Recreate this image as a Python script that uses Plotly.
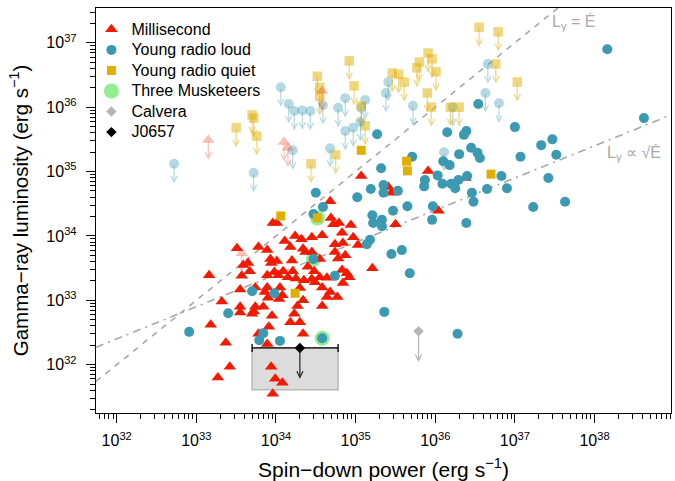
import numpy as np
import plotly.graph_objects as go

# ---- data: log10 spin-down power (erg/s) and log10 gamma-ray luminosity (erg/s) ----
# Millisecond pulsars (detections)
msp_log_edot = [33.96, 34.01, 34.24, 34.32, 34.45, 34.58, 33.51, 33.78, 33.89, 34.11,
                34.18, 34.34, 34.37, 33.65, 33.59, 33.67, 33.93, 34.01, 34.20, 33.94,
                33.16, 33.57, 33.89, 33.98, 34.09, 34.15, 34.25, 34.35, 34.21, 34.03,
                34.40, 34.48, 34.55, 34.64, 34.45, 34.49, 33.55, 33.74, 33.89, 34.05,
                34.08, 33.86, 33.90, 34.04, 34.30, 34.34, 34.58, 34.64, 33.32, 33.55,
                33.74, 33.84, 34.27, 34.58, 33.55, 33.72, 33.70, 33.95, 34.23, 34.18,
                34.30, 33.18, 33.91, 33.78, 34.34, 33.37, 33.89, 33.42, 33.27, 33.94,
                33.99, 34.08, 33.96, 35.07, 35.41, 35.45, 34.68, 35.91, 36.04, 34.69,
                34.79, 34.72, 34.94, 35.50, 36.38, 34.97, 34.83, 34.74, 34.84, 35.03,
                34.74, 34.87, 34.78, 34.55, 34.45, 35.21, 34.83, 34.89, 34.92, 34.84,
                34.68, 34.77]
msp_log_lum = [34.20, 34.20, 34.00, 33.95, 33.98, 34.01, 33.81, 33.83, 33.78, 33.92,
               33.83, 33.80, 33.75, 33.58, 33.55, 33.45, 33.64, 33.61, 33.62, 33.58,
               33.39, 33.38, 33.39, 33.44, 33.45, 33.36, 33.34, 33.31, 33.45, 33.39,
               33.52, 33.45, 33.36, 33.35, 33.33, 33.28, 33.17, 33.20, 33.20, 33.20,
               33.08, 33.13, 33.04, 33.02, 33.19, 33.00, 33.20, 33.05, 32.98, 32.90,
               32.90, 32.90, 32.91, 32.91, 32.81, 32.83, 32.79, 32.76, 32.79, 32.66,
               32.66, 32.62, 32.59, 32.48, 32.48, 32.34, 32.32, 31.97, 31.80, 31.97,
               31.78, 31.72, 31.55, 34.93, 34.76, 34.67, 34.54, 35.01, 34.39, 34.28,
               34.20, 34.18, 34.17, 34.18, 34.90, 33.98, 34.05, 33.87, 33.89, 33.86,
               33.75, 33.70, 33.65, 33.64, 33.75, 33.50, 33.47, 33.42, 33.36, 33.27,
               33.13, 33.05]

# Young radio-loud pulsars (detections)
yrl_log_edot = [32.91, 33.40, 33.70, 33.98, 33.84, 33.79, 34.05, 34.74, 34.50, 34.59,
                34.47, 35.27, 35.32, 35.02, 35.19, 35.35, 35.35, 35.53, 35.71, 35.65,
                35.47, 35.21, 35.22, 35.33, 35.33, 35.87, 35.86, 36.03, 35.97, 35.96,
                36.09, 36.10, 36.15, 36.18, 35.18, 35.14, 35.45, 35.58, 35.68, 35.36,
                36.54, 36.39, 36.36, 37.00, 38.16, 38.62, 37.33, 37.47, 37.52, 37.07,
                37.42, 36.83, 36.90, 36.45, 36.53, 36.56, 36.30, 36.40, 36.29, 36.20,
                36.25, 36.46, 36.48, 36.65, 37.23, 37.63, 36.39, 36.28, 34.47, 34.58]
yrl_log_lum = [32.51, 32.80, 33.14, 33.11, 32.49, 32.38, 32.37, 33.38, 34.67, 34.45,
               34.34, 35.58, 35.05, 34.60, 34.73, 34.79, 34.67, 34.70, 35.23, 34.46,
               34.39, 34.32, 34.20, 34.25, 34.15, 34.87, 34.77, 34.94, 34.46, 34.25,
               34.81, 35.16, 35.61, 35.10, 33.94, 33.87, 33.72, 33.78, 33.42, 32.82,
               36.05, 35.63, 35.57, 35.69, 36.90, 35.83, 35.41, 35.50, 35.26, 35.23,
               34.90, 34.93, 34.74, 35.37, 35.29, 35.21, 35.27, 34.93, 34.87, 34.81,
               34.74, 34.67, 34.53, 34.73, 34.45, 34.53, 34.20, 32.48, 33.64, 32.41]

# Young radio-quiet pulsars (detections)
yrq_log_edot = [34.06, 34.52, 34.24, 35.07, 35.64, 35.65, 36.70]
yrq_log_lum = [34.31, 34.28, 33.11, 35.33, 35.16, 35.01, 34.96]

# Upper limits: young radio-loud
yrl_ul_log_edot = [32.72, 33.72, 34.06, 34.16, 34.23, 34.33, 34.43, 34.21, 34.68, 34.59,
                   34.78, 34.87, 34.87, 34.97, 35.06, 35.12, 35.07, 35.41, 35.38, 35.72,
                   36.22, 36.63, 36.66, 36.80, 36.11]
yrl_ul_log_lum = [35.12, 34.98, 36.31, 36.05, 35.94, 35.95, 35.94, 35.33, 35.36, 36.03,
                  35.99, 36.14, 35.63, 35.68, 35.77, 36.11, 35.99, 36.39, 36.22, 36.02,
                  36.00, 36.22, 36.67, 36.06, 35.30]

# Upper limits: young radio-quiet
yrq_ul_log_edot = [34.52, 34.55, 34.55, 33.70, 33.72, 33.50, 33.76, 34.44, 34.75, 34.92,
                   34.98, 35.07, 35.12, 35.46, 35.54, 35.61, 35.80, 35.77, 35.91, 35.96,
                   36.01, 35.90, 35.95, 36.19, 36.30, 36.55, 36.79, 36.76, 37.03]
yrq_ul_log_lum = [36.48, 36.31, 36.17, 35.88, 35.83, 35.68, 35.55, 35.12, 35.26, 36.72,
                  36.33, 36.02, 35.71, 36.53, 36.51, 36.39, 36.70, 36.61, 36.84, 36.75,
                  36.55, 36.22, 36.00, 36.00, 36.00, 37.24, 37.17, 36.67, 36.39]

# Upper limits: millisecond pulsars
msp_ul_log_edot = [33.15, 34.10, 34.15, 34.58, 33.57]
msp_ul_log_lum = [35.49, 35.46, 35.37, 36.25, 33.73]

# The Three Musketeers
musk_log_edot = [34.52, 34.47, 34.58]
musk_log_lum = [34.28, 33.64, 32.41]

# Calvera (upper limit)
calvera_log_edot = [35.79]
calvera_log_lum = [32.52]

# J0657 (upper limit, with spin-down power range and allowed region)
j0657_log_edot = [34.30]
j0657_log_edot_range = [33.70, 34.78]
j0657_log_lum = [32.26]
j0657_log_lum_floor = 31.61

# Reference relations
sqrt_norm_log = 16.40          # L = 10**16.40 * sqrt(Edot)
ul_drop = 0.5                  # arrow length for upper limits (factor)
special_drop = 1.0 / 3.0       # arrow length for Calvera / J0657

x_range = [31.74, 38.96]
y_range = [31.25, 37.54]

# ---- colours ----
RED = "#F21A00"
BLUE = "#3B9AB2"
GOLD = "#E1AF00"
RED_F = "rgba(242,26,0,0.28)"
BLUE_F = "rgba(59,154,178,0.38)"
GOLD_F = "rgba(225,175,0,0.5)"
GREEN = "#90EE90"
GREY = "#B5B5B5"
LINE_GREY = "#A8A8A8"

def lin(v):
    return 10 ** np.asarray(v, dtype=float)

def lg(name):
    return f'<span style="font-size:16px">{name}</span>'

fig = go.Figure()

# reference lines
xl = lin(x_range)
fig.add_trace(go.Scatter(x=xl, y=xl, mode="lines", showlegend=False, hoverinfo="skip",
                         line=dict(color=LINE_GREY, width=1.6, dash="6px,6px")))
fig.add_trace(go.Scatter(x=xl, y=10 ** sqrt_norm_log * np.sqrt(xl), mode="lines",
                         showlegend=False, hoverinfo="skip",
                         line=dict(color=LINE_GREY, width=1.6, dash="8px,5px,2px,5px")))

# J0657 allowed region
lo, hi = lin(j0657_log_edot_range)
top = lin(j0657_log_lum)[0]
bot = 10 ** j0657_log_lum_floor
fig.add_trace(go.Scatter(x=[lo, hi, hi, lo, lo], y=[top, top, bot, bot, top],
                         mode="lines", fill="toself", fillcolor="#DCDCDC",
                         line=dict(color="#B8B8B8", width=1.5),
                         showlegend=False, hoverinfo="skip"))

# upper limits (faded)
fig.add_trace(go.Scatter(x=lin(yrl_ul_log_edot), y=lin(yrl_ul_log_lum), mode="markers",
                         marker=dict(symbol="circle", size=10, color=BLUE_F),
                         showlegend=False))
fig.add_trace(go.Scatter(x=lin(yrq_ul_log_edot), y=lin(yrq_ul_log_lum), mode="markers",
                         marker=dict(symbol="square", size=9.5, color=GOLD_F),
                         showlegend=False))
fig.add_trace(go.Scatter(x=lin(msp_ul_log_edot), y=lin(msp_ul_log_lum), mode="markers",
                         marker=dict(symbol="triangle-up", size=11, color=RED_F),
                         showlegend=False))

# Three Musketeers halo
fig.add_trace(go.Scatter(x=lin(musk_log_edot), y=lin(musk_log_lum), mode="markers",
                         name=lg("Three Musketeers"),
                         marker=dict(symbol="circle", size=15, color=GREEN)))

# detections
fig.add_trace(go.Scatter(x=lin(msp_log_edot), y=lin(msp_log_lum), mode="markers",
                         name=lg("Millisecond"),
                         marker=dict(symbol="triangle-up", size=11, color=RED)))
fig.add_trace(go.Scatter(x=lin(yrl_log_edot), y=lin(yrl_log_lum), mode="markers",
                         name=lg("Young radio loud"),
                         marker=dict(symbol="circle", size=10, color=BLUE)))
fig.add_trace(go.Scatter(x=lin(yrq_log_edot), y=lin(yrq_log_lum), mode="markers",
                         name=lg("Young radio quiet"),
                         marker=dict(symbol="square", size=9, color=GOLD)))
fig.add_trace(go.Scatter(x=lin(calvera_log_edot), y=lin(calvera_log_lum), mode="markers",
                         name=lg("Calvera"),
                         marker=dict(symbol="diamond", size=8, color=GREY)))
j_x = lin(j0657_log_edot)
fig.add_trace(go.Scatter(x=j_x, y=lin(j0657_log_lum), mode="markers",
                         name=lg("J0657"),
                         marker=dict(symbol="diamond", size=8, color="black"),
                         error_x=dict(type="data", symmetric=False,
                                      array=[hi - j_x[0]], arrayminus=[j_x[0] - lo],
                                      color="black", thickness=1.3, width=4)))

# arrows for upper limits
annotations = []
def add_arrows(xs, ys, drop, color, width=1.2):
    for xv, yv in zip(xs, ys):
        annotations.append(dict(x=xv, y=yv + np.log10(drop), ax=xv, ay=yv,
                                xref="x", yref="y", axref="x", ayref="y",
                                text="", showarrow=True, arrowhead=5, arrowsize=1,
                                arrowwidth=width, arrowcolor=color, standoff=0))

add_arrows(yrl_ul_log_edot, yrl_ul_log_lum, ul_drop, BLUE_F)
add_arrows(yrq_ul_log_edot, yrq_ul_log_lum, ul_drop, GOLD_F)
add_arrows(msp_ul_log_edot, msp_ul_log_lum, ul_drop, RED_F)
add_arrows(calvera_log_edot, calvera_log_lum, special_drop, GREY)
add_arrows(j0657_log_edot, j0657_log_lum, special_drop, "#222222")

annotations.append(dict(x=37.44, y=37.32, xref="x", yref="y", xanchor="left",
                        yanchor="middle", showarrow=False,
                        text="L<sub>γ</sub> = Ė",
                        font=dict(size=16, color=LINE_GREY)))
annotations.append(dict(x=38.13, y=35.29, xref="x", yref="y", xanchor="left",
                        yanchor="middle", showarrow=False,
                        text="L<sub>γ</sub> ∝ √Ė",
                        font=dict(size=16, color=LINE_GREY)))

def decade_labels(lo_e, hi_e):
    vals = [10.0 ** e for e in range(lo_e, hi_e + 1)]
    txt = [f"10<sup>{e}</sup>" for e in range(lo_e, hi_e + 1)]
    return vals, txt

def minor_vals(lo_e, hi_e):
    return [m * 10.0 ** e for e in range(lo_e, hi_e + 1) for m in range(2, 10)]

xv, xt = decade_labels(32, 38)
yv, yt = decade_labels(32, 37)

axis_common = dict(type="log", showgrid=False, zeroline=False, showline=True,
                   linecolor="black", linewidth=1.4, mirror=True,
                   ticks="outside", ticklen=9, tickwidth=1.2, tickcolor="black",
                   tickmode="array", tickfont=dict(size=16, color="black"))

fig.update_layout(
    width=675, height=481,
    margin=dict(l=96, r=4, t=8, b=68),
    paper_bgcolor="white", plot_bgcolor="white",
    font=dict(family="Liberation Sans, Arial, sans-serif", color="black"),
    xaxis=dict(axis_common, range=x_range, tickvals=xv, ticktext=xt,
               minor=dict(tickmode="array", tickvals=minor_vals(31, 38), ticks="outside",
                          ticklen=5, tickwidth=1.1, tickcolor="black"),
               ticklabelstandoff=4,
               title=dict(text="Spin−down power (erg s<sup>−1</sup>)",
                          font=dict(size=21), standoff=13)),
    yaxis=dict(axis_common, range=y_range, tickvals=yv, ticktext=yt,
               minor=dict(tickmode="array", tickvals=minor_vals(31, 37), ticks="outside",
                          ticklen=5, tickwidth=1.1, tickcolor="black"),
               ticklabelstandoff=6,
               title=dict(text="Gamma−ray luminosity (erg s<sup>−1</sup>)",
                          font=dict(size=20.5), standoff=12)),
    legend=dict(x=-0.008, xanchor="left", y=0.985, yanchor="top",
                font=dict(size=13.5), bgcolor="rgba(0,0,0,0)",
                traceorder="normal", itemsizing="trace"),
    annotations=annotations,
    showlegend=True,
)

# legend order: Millisecond, Young radio loud, Young radio quiet, Three Musketeers, Calvera, J0657
order = {lg("Millisecond"): 1, lg("Young radio loud"): 2, lg("Young radio quiet"): 3,
         lg("Three Musketeers"): 4, lg("Calvera"): 5, lg("J0657"): 6}
for tr in fig.data:
    if tr.name in order:
        tr.legendrank = order[tr.name]

fig.write_html("out.html")
